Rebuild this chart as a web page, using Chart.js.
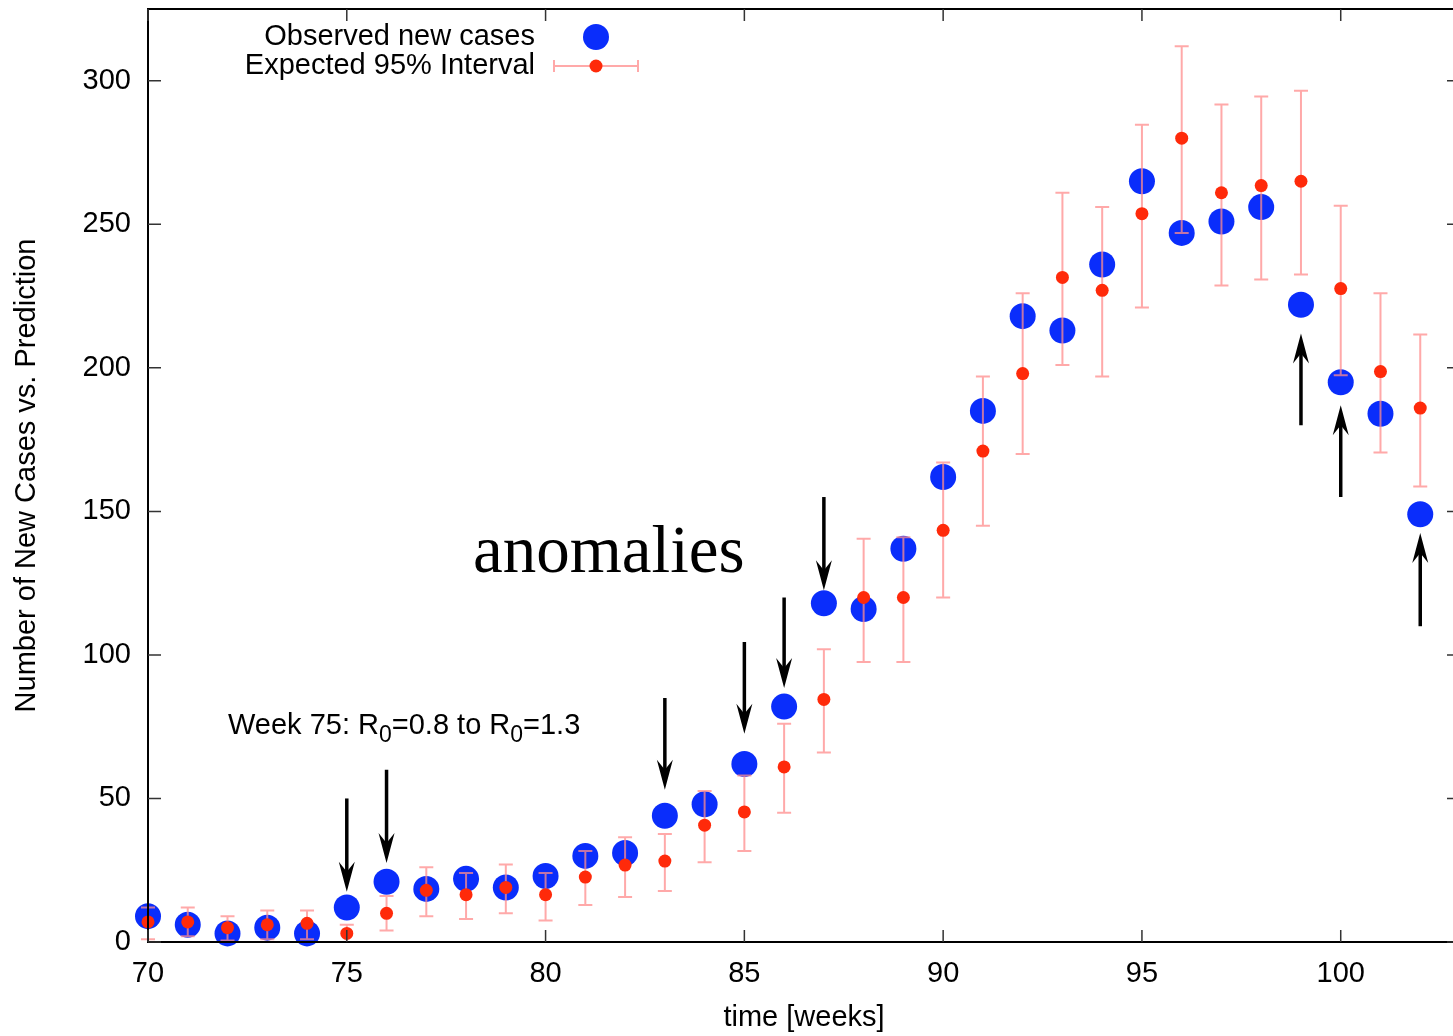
<!DOCTYPE html>
<html>
<head>
<meta charset="utf-8">
<script src="https://cdn.jsdelivr.net/npm/chart.js@4/dist/chart.umd.min.js"></script>
<style>
  html, body { margin: 0; padding: 0; background: #fff; overflow: hidden; }
  #wrap { width: 1453px; height: 1036px; overflow: hidden; }
  canvas { display: block; }
</style>
</head>
<body>
<div id="wrap"><canvas id="chart" width="1462" height="1036"></canvas></div>
<script>
// weeks 70..102
const weeks = [70, 71, 72, 73, 74, 75, 76, 77, 78, 79, 80, 81, 82, 83, 84, 85, 86,
               87, 88, 89, 90, 91, 92, 93, 94, 95, 96, 97, 98, 99, 100, 101, 102];

// observed new cases (blue)
const observed = [9, 6, 3, 5, 3, 12, 21, 18.5, 22, 19, 23, 30, 31, 44, 48, 62, 82,
                  118, 116, 137, 162, 185, 218, 213, 236, 265, 247, 251, 256, 222, 195, 184, 149];

// expected value and 95% interval (red)
const expected = [7, 7, 5, 6, 6.5, 3, 10, 18, 16.5, 19, 16.5, 22.6, 26.8, 28.2, 40.7, 45.3, 61,
                  84.5, 120, 120, 143.4, 171, 198, 231.5, 227, 253.7, 280, 261, 263.5, 265, 227.6, 198.7, 186];
const lower = [1, 2, 0.5, 1, 1, 0, 4, 9, 8, 10, 7.5, 12.9, 15.7, 17.8, 27.8, 31.7, 45,
               66, 97.5, 97.5, 120, 145, 170, 201, 197, 221, 247, 228.7, 230.8, 232.5, 197.4, 170.5, 158.7];
const upper = [12, 12, 9, 11, 11, 6, 16, 26, 24, 27, 24, 31.7, 36.5, 37.6, 52.6, 58, 76,
               102, 140.5, 141, 167, 197, 226, 261, 256, 284.7, 312, 291.7, 294.5, 296.5, 256.5, 226, 211.6];

// anomaly arrows: week, tail value, tip value
const arrowWeeks = [75, 76, 83, 85, 86, 87, 99, 100, 102];
const arrowFrom  = [50, 60, 85, 104.5, 120, 155, 180, 155, 110];
const arrowTo    = [17.5, 27.5, 53, 72.5, 88.5, 122.5, 212, 187, 142.5];

const BLUE = '#0a2dfb';
const RED = '#ff2a0a';
const PINK = 'rgba(255,140,140,0.75)';
const FONT = "'Liberation Sans', Arial, sans-serif";

const errorBars = {
    id: 'errorBars',
    beforeDatasetDraw(chart, args) {
        if (args.index !== 1) return;
        const ctx = chart.ctx, x = chart.scales.x, y = chart.scales.y;
        ctx.save();
        ctx.strokeStyle = PINK;
        ctx.lineWidth = 2;
        weeks.forEach((w, i) => {
            const px = x.getPixelForValue(w);
            const y0 = y.getPixelForValue(lower[i]);
            const y1 = y.getPixelForValue(upper[i]);
            ctx.beginPath();
            ctx.moveTo(px, y0); ctx.lineTo(px, y1);
            ctx.moveTo(px - 7, y0); ctx.lineTo(px + 7, y0);
            ctx.moveTo(px - 7, y1); ctx.lineTo(px + 7, y1);
            ctx.stroke();
        });
        ctx.restore();
    }
};

function drawArrow(ctx, x, yTail, yTip) {
    const d = Math.sign(yTip - yTail);
    ctx.beginPath();
    ctx.moveTo(x, yTail);
    ctx.lineTo(x, yTip - d * 14);
    ctx.stroke();
    ctx.beginPath();
    ctx.moveTo(x, yTip);
    ctx.lineTo(x - 8, yTip - d * 30);
    ctx.lineTo(x, yTip - d * 20);
    ctx.lineTo(x + 8, yTip - d * 30);
    ctx.closePath();
    ctx.fill();
}

const overlay = {
    id: 'overlay',
    afterDatasetsDraw(chart) {
        const ctx = chart.ctx, x = chart.scales.x, y = chart.scales.y;
        const a = chart.chartArea;
        ctx.save();

        // arrows
        ctx.strokeStyle = '#000';
        ctx.fillStyle = '#000';
        ctx.lineWidth = 3.5;
        arrowWeeks.forEach((w, i) => {
            drawArrow(ctx, x.getPixelForValue(w), y.getPixelForValue(arrowFrom[i]), y.getPixelForValue(arrowTo[i]));
        });

        // frame and inward ticks
        ctx.strokeStyle = '#000';
        ctx.lineWidth = 2;
        ctx.strokeRect(a.left, a.top, a.right - a.left, a.bottom - a.top);
        ctx.lineWidth = 1.5;
        ctx.strokeStyle = '#333';
        ctx.beginPath();
        x.ticks.forEach(t => {
            const px = x.getPixelForValue(t.value);
            ctx.moveTo(px, a.bottom); ctx.lineTo(px, a.bottom - 12);
            ctx.moveTo(px, a.top); ctx.lineTo(px, a.top + 12);
        });
        y.ticks.forEach(t => {
            const py = y.getPixelForValue(t.value);
            ctx.moveTo(a.left, py); ctx.lineTo(a.left + 13, py);
            ctx.moveTo(a.right, py); ctx.lineTo(a.right - 13, py);
        });
        ctx.stroke();

        // legend
        ctx.fillStyle = '#000';
        ctx.font = '29px ' + FONT;
        ctx.textAlign = 'right';
        ctx.textBaseline = 'middle';
        ctx.fillText(chart.data.datasets[0].label, 535, 37);
        ctx.fillText(chart.data.datasets[1].label, 535, 66);
        ctx.fillStyle = BLUE;
        ctx.beginPath(); ctx.arc(596, 37, 13, 0, Math.PI * 2); ctx.fill();
        ctx.strokeStyle = PINK;
        ctx.lineWidth = 2;
        ctx.beginPath();
        ctx.moveTo(554, 66); ctx.lineTo(638, 66);
        ctx.moveTo(554, 60); ctx.lineTo(554, 72);
        ctx.moveTo(638, 60); ctx.lineTo(638, 72);
        ctx.stroke();
        ctx.fillStyle = RED;
        ctx.beginPath(); ctx.arc(596, 66, 6.5, 0, Math.PI * 2); ctx.fill();

        // "Week 75: R0=0.8 to R0=1.3"
        ctx.fillStyle = '#000';
        ctx.textAlign = 'left';
        ctx.textBaseline = 'alphabetic';
        const parts = [['Week 75: R', false], ['0', true], ['=0.8 to R', false], ['0', true], ['=1.3', false]];
        let tx = 228;
        parts.forEach(([s, sub]) => {
            ctx.font = (sub ? '23px ' : '29px ') + FONT;
            ctx.fillText(s, tx, sub ? 742 : 734);
            tx += ctx.measureText(s).width;
        });

        // "anomalies"
        ctx.font = "67px 'Liberation Serif', 'Times New Roman', serif";
        ctx.fillText('anomalies', 473, 572);

        ctx.restore();
    }
};

new Chart(document.getElementById('chart'), {
    type: 'scatter',
    data: {
        datasets: [{
            label: 'Observed new cases',
            data: weeks.map((w, i) => ({ x: w, y: observed[i] })),
            backgroundColor: BLUE,
            borderWidth: 0,
            pointRadius: 13,
            order: 2,
            clip: false
        }, {
            label: 'Expected 95% Interval',
            data: weeks.map((w, i) => ({ x: w, y: expected[i] })),
            backgroundColor: RED,
            borderWidth: 0,
            pointRadius: 6.5,
            order: 1,
            clip: false
        }]
    },
    options: {
        responsive: false,
        animation: false,
        layout: { autoPadding: false, padding: { top: 9, right: 2, left: 0, bottom: 0 } },
        plugins: {
            legend: { display: false },
            tooltip: { enabled: false }
        },
        scales: {
            x: {
                type: 'linear',
                min: 70,
                max: 103,
                grid: { display: false },
                border: { display: false },
                ticks: { stepSize: 5, includeBounds: false, padding: 7, color: '#000', maxRotation: 0,
                         font: { family: FONT, size: 29 } },
                title: { display: true, text: 'time [weeks]', color: '#000',
                         font: { family: FONT, size: 29 }, padding: { top: 0, bottom: 1 } },
                afterFit: s => { s.height = 94; s.paddingLeft = 0; s.paddingRight = 0; }
            },
            y: {
                min: 0,
                max: 325,
                grid: { display: false },
                border: { display: false },
                ticks: { stepSize: 50, includeBounds: false, padding: 9, color: '#000',
                         font: { family: FONT, size: 29 } },
                title: { display: true, text: 'Number of New Cases vs. Prediction', color: '#000',
                         font: { family: FONT, size: 29 }, padding: { top: 10, bottom: 0 } },
                afterFit: s => { s.width = 148; s.paddingTop = 0; s.paddingBottom = 0; }
            }
        }
    },
    plugins: [errorBars, overlay]
});
</script>
</body>
</html>
